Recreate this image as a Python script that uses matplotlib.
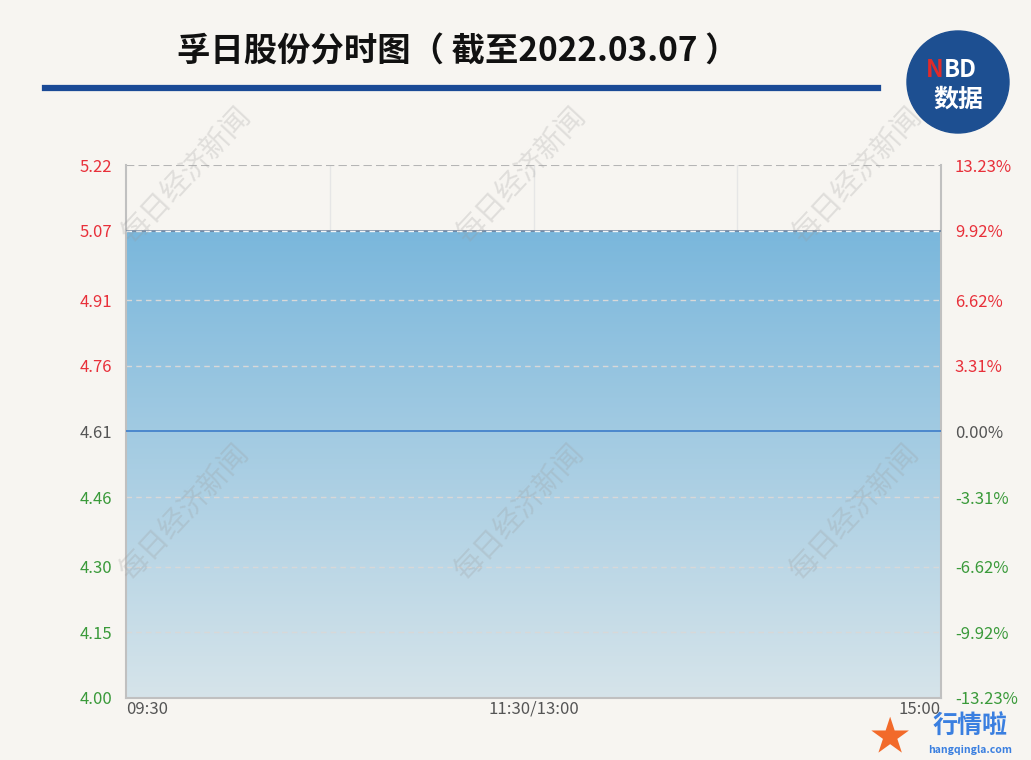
import matplotlib
matplotlib.use("Agg")
import matplotlib.pyplot as plt
import numpy as np
from matplotlib.patches import Ellipse
from matplotlib.colors import LinearSegmentedColormap

plt.rcParams['font.family'] = ['Noto Sans CJK SC', 'DejaVu Sans']

# 数据
title = "孚日股份分时图（ 截至2022.03.07 ）"
prev_close = 4.61
minutes = [0, 120, 240]
prices = [5.07, 5.07, 5.07]
x_ticks = [0, 120, 240]
x_labels = ["09:30", "11:30/13:00", "15:00"]
y_ticks = [4.00, 4.15, 4.30, 4.46, 4.61, 4.76, 4.91, 5.07, 5.22]
pct_labels = ["-13.23%", "-9.92%", "-6.62%", "-3.31%", "0.00%", "3.31%", "6.62%", "9.92%", "13.23%"]

bg = "#f7f5f1"
red = "#e8303a"
green = "#3a9a3a"
gray = "#555555"

fig = plt.figure(figsize=(10.31, 7.6), dpi=100, facecolor=bg)
ax = fig.add_axes([126/1031, 1-698/760, (941-126)/1031, (698-165)/760])
ax.set_facecolor(bg)
ax.set_xlim(0, 240)
ax.set_ylim(4.00, 5.22)

# 渐变填充
cmap = LinearSegmentedColormap.from_list("g", ["#d6e4ea", "#7ab7dc"])
grad = np.linspace(0, 1, 256).reshape(-1, 1)
poly = ax.fill_between(minutes, prices, 4.00, color="none")
im = ax.imshow(grad, cmap=cmap, origin="lower", aspect="auto",
               extent=[0, 240, 4.00, max(prices)], zorder=1)
im.set_clip_path(poly.get_paths()[0], transform=ax.transData)
ax.plot(minutes, prices, color="#6d84a0", lw=1.2, zorder=3)
ax.axhline(prev_close, color="#3d7cc9", lw=1.2, zorder=3)

# 网格
for y in y_ticks:
    if y == 5.22:
        ax.axhline(y, color="#b5b5b5", lw=1.5, ls=(0, (4, 2)), zorder=2)
    elif y not in (4.00, prev_close):
        ax.axhline(y, color="#f4f6f8" if y == 5.07 else "#d8d8d8", lw=1, ls=(0, (4, 3)), zorder=4 if y == 5.07 else 2)
for xv in [60, 120, 180]:
    ax.axvline(xv, color="#e6e6e6", lw=1, zorder=0.5)

for s in ["left", "right", "bottom"]:
    ax.spines[s].set_color("#c0c0c0")
    ax.spines[s].set_linewidth(1.5)
ax.spines["top"].set_visible(False)

ax.set_yticks(y_ticks)
ax.set_yticklabels(["%.2f" % v for v in y_ticks], fontsize=12)
for lab, v in zip(ax.get_yticklabels(), y_ticks):
    lab.set_color(red if v > prev_close else (green if v < prev_close else gray))
ax.tick_params(axis="y", length=0, pad=10)

ax2 = ax.twinx()
ax2.set_ylim(ax.get_ylim())
ax2.set_yticks(y_ticks)
ax2.set_yticklabels(pct_labels, fontsize=12)
for lab, v in zip(ax2.get_yticklabels(), y_ticks):
    lab.set_color(red if v > prev_close else (green if v < prev_close else gray))
ax2.tick_params(axis="y", length=0, pad=10)
for s in ax2.spines.values():
    s.set_visible(False)

ax.set_xticks(x_ticks)
ax.set_xticklabels(x_labels, fontsize=12, color=gray)
ax.tick_params(axis="x", length=0, pad=2)
xl = ax.get_xticklabels()
xl[0].set_ha("left")
xl[-1].set_ha("right")

# 水印
for (wx, wy) in [(187, 175), (522, 175), (858, 175), (185, 512), (520, 512), (855, 512)]:
    fig.text(wx/1031, 1-wy/760, "每日经济新闻", fontsize=21, color="#9a9a9a",
             rotation=47, ha="center", va="center", alpha=0.25, zorder=10)

# 标题
fig.text(458/1031, 1-52/760, title, fontsize=24, fontweight="bold",
         ha="center", va="center", color="#111111")
fig.add_artist(plt.Line2D([45/1031, 878/1031], [1-88/760, 1-88/760],
                          color="#1a4a96", lw=4.5, transform=fig.transFigure))

# NBD 标志
circ = Ellipse((958/1031, 1-82/760), 102/1031, 102/760, transform=fig.transFigure,
               color="#1d4f91", zorder=5)
fig.add_artist(circ)
fig.text(944/1031, 1-70/760, "N", fontsize=17, fontweight="bold", color="#e02a2a",
         ha="right", va="center", zorder=6)
fig.text(944/1031, 1-70/760, "BD", fontsize=17, fontweight="bold", color="white",
         ha="left", va="center", zorder=6)
fig.text(958/1031, 1-100/760, "数据", fontsize=18, fontweight="bold", color="white",
         ha="center", va="center", zorder=6)

# 行情啦 标志
fig.text(890/1031, 1-738/760, "★", fontsize=29, color="#f26a2a", ha="center", va="center")
fig.text(970/1031, 1-727/760, "行情啦", fontsize=18, fontweight="bold", color="#3a7fe0",
         ha="center", va="center", style="italic")
fig.text(970/1031, 1-750/760, "hangqingla.com", fontsize=7.5, fontweight="bold",
         color="#3a7fe0", ha="center", va="center", style="italic")

fig.savefig("out.png", dpi=100, facecolor=bg)
